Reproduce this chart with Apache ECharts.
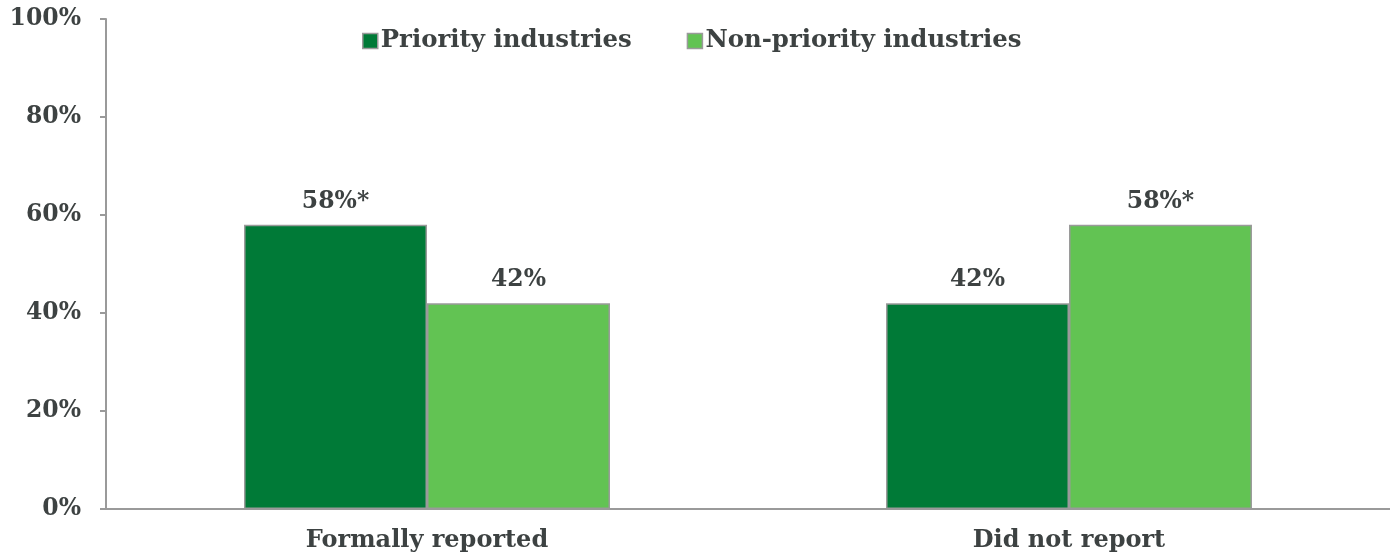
<!DOCTYPE html>
<html>
<head>
<meta charset="utf-8">
<script src="https://cdn.jsdelivr.net/npm/echarts@6/dist/echarts.min.js"></script>
<style>
  html, body { margin: 0; padding: 0; background: #fff; }
  #chart { width: 1390px; height: 558px; }
</style>
</head>
<body>
<div id="chart"></div>
<script>
// Share of respondents by reporting outcome
const categories = ['Formally reported', 'Did not report'];
const seriesNames = ['Priority industries', 'Non-priority industries'];
const priorityValues = [58, 42];
const nonPriorityValues = [42, 58];
// Values that carry a significance marker
const priorityStarred = [true, false];
const nonPriorityStarred = [false, true];
const yTicks = [0, 20, 40, 60, 80, 100];

const FONT = '"DejaVu Serif", Georgia, serif';
const TEXT = '#3d4242';

function labelFor(starred) {
  return {
    show: true,
    position: 'top',
    distance: 11,
    fontFamily: FONT,
    fontWeight: 'bold',
    fontSize: 23.5,
    color: TEXT,
    formatter: p => p.value + '%' + (starred[p.dataIndex] ? '*' : '')
  };
}

const chart = echarts.init(document.getElementById('chart'));
chart.setOption({
  animation: false,
  textStyle: { fontFamily: FONT },
  legend: {
    data: seriesNames.map(n => ({ name: n, icon: 'rect' })),
    top: 24,
    left: 357,
    itemWidth: 15,
    itemHeight: 15,
    itemGap: 55,
    itemStyle: { borderColor: '#9a9a9a', borderWidth: 1.5 },
    textStyle: { fontFamily: FONT, fontWeight: 'bold', fontSize: 24.4, color: TEXT, padding: [0, 0, 0, -2] }
  },
  grid: { left: 106, right: 0, top: 19, bottom: 49, containLabel: false },
  xAxis: {
    type: 'category',
    data: categories,
    axisLine: { lineStyle: { color: '#9a9a9a', width: 2 } },
    axisTick: { show: false },
    axisLabel: { fontFamily: FONT, fontWeight: 'bold', fontSize: 24, color: TEXT, margin: 20 }
  },
  yAxis: {
    type: 'value',
    min: yTicks[0],
    max: yTicks[yTicks.length - 1],
    interval: 20,
    axisLine: { show: true, lineStyle: { color: '#9a9a9a', width: 2 } },
    axisTick: { show: true, length: 6, lineStyle: { color: '#9a9a9a', width: 2 } },
    splitLine: { show: false },
    axisLabel: {
      fontFamily: FONT, fontWeight: 'bold', fontSize: 23.5, color: TEXT, margin: 25,
      formatter: v => v + '%'
    }
  },
  series: [
    {
      name: seriesNames[0],
      type: 'bar',
      data: priorityValues,
      barGap: '0%',
      barCategoryGap: '43%',
      itemStyle: { color: '#007a37', borderColor: '#9a9a9a', borderWidth: 1.5 },
      label: labelFor(priorityStarred)
    },
    {
      name: seriesNames[1],
      type: 'bar',
      data: nonPriorityValues,
      barGap: '0%',
      barCategoryGap: '43%',
      itemStyle: { color: '#62c353', borderColor: '#9a9a9a', borderWidth: 1.5 },
      label: labelFor(nonPriorityStarred)
    }
  ]
});
</script>
</body>
</html>
